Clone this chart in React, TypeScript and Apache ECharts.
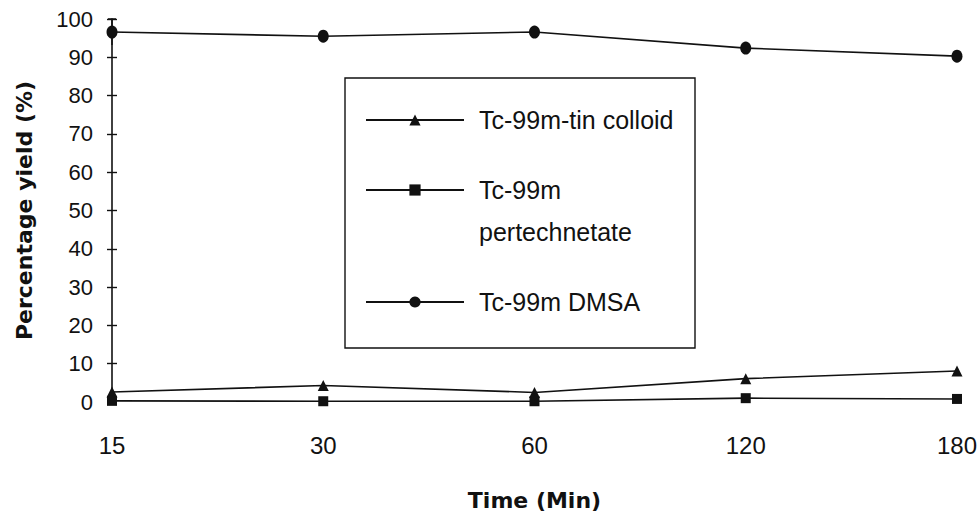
import React, { useEffect, useRef } from 'react';
import * as echarts from 'echarts';

const timeLabels = ['15', '30', '60', '120', '180'];
const tinColloid = [2.6, 4.3, 2.5, 6.1, 8.1];
const pertechnetate = [0.3, 0.2, 0.2, 1.0, 0.8];
const dmsa = [96.6, 95.5, 96.6, 92.4, 90.3];
const dmsaError = [3.4, null, null, null, null];
const yMin = 0;
const yMax = 100;
const yInterval = 10;

const NAME_TIN = 'Tc-99m-tin colloid';
const NAME_PER = 'Tc-99m pertechnetate';
const NAME_DMSA = 'Tc-99m DMSA';

const INK = '#111';

export default function App() {
  const ref = useRef<HTMLDivElement>(null);
  useEffect(() => {
    document.body.style.margin = '0';
    if (!ref.current) return;
    const chart = echarts.init(ref.current, undefined, { renderer: 'svg' });
    const errData = dmsaError
      .map((e, i) => (e == null ? null : [i, dmsa[i] - e, dmsa[i] + e]))
      .filter((d) => d != null);
    const legendText = {
      color: INK,
      fontSize: 25,
      fontFamily: 'Liberation Sans',
      padding: [0, 0, 0, 10],
    };
    const legendBase = {
      orient: 'horizontal' as const,
      left: 365,
      padding: 0,
      itemWidth: 98,
      itemHeight: 14,
      inactiveColor: INK,
      selectedMode: false,
    };
    const option: any = {
      animation: false,
      backgroundColor: '#fff',
      grid: { left: 112, right: 20, top: 19, bottom: 115, containLabel: false },
      xAxis: {
        type: 'category',
        data: timeLabels,
        boundaryGap: false,
        axisLine: { show: false },
        axisTick: { show: false },
        axisLabel: { color: INK, fontSize: 24, fontFamily: 'Liberation Sans', margin: 31 },
        name: 'Time (Min)',
        nameLocation: 'middle',
        nameGap: 87,
        nameTextStyle: { color: INK, fontSize: 22, fontWeight: 'bold', fontFamily: 'DejaVu Sans' },
      },
      yAxis: [
        {
          type: 'value',
          min: yMin,
          max: yMax,
          interval: yInterval,
          splitLine: { show: false },
          axisLine: { show: true, lineStyle: { color: INK, width: 1.6 } },
          axisTick: { show: true, inside: false, length: 5, lineStyle: { color: INK, width: 1.4 } },
          axisLabel: { color: INK, fontSize: 22, fontFamily: 'Liberation Sans', margin: 19 },
          name: 'Percentage yield (%)',
          nameLocation: 'middle',
          nameGap: 77,
          nameTextStyle: { color: INK, fontSize: 22, fontWeight: 'bold', fontFamily: 'DejaVu Sans' },
        },
        {
          type: 'value',
          position: 'left',
          offset: 0,
          min: yMin,
          max: yMax,
          interval: yInterval,
          splitLine: { show: false },
          axisLine: { show: false },
          axisTick: { show: true, inside: true, length: 5, lineStyle: { color: INK, width: 1.4 } },
          axisLabel: { show: false },
        },
      ],
      legend: [
        {
          ...legendBase,
          top: 106,
          data: [NAME_TIN],
          textStyle: { ...legendText, lineHeight: 28 },
        },
        {
          ...legendBase,
          top: 127,
          data: [NAME_PER],
          formatter: () => '\nTc-99m\npertechnetate',
          textStyle: { ...legendText, lineHeight: 42 },
        },
        {
          ...legendBase,
          top: 288,
          data: [NAME_DMSA],
          textStyle: { ...legendText, lineHeight: 28 },
        },
      ],
      graphic: [
        {
          type: 'rect',
          shape: { x: 345, y: 78, width: 350, height: 270 },
          style: { fill: 'rgba(0,0,0,0)', stroke: INK, lineWidth: 1.4 },
          z: 0,
        },
      ],
      series: [
        {
          name: NAME_TIN,
          type: 'line',
          data: tinColloid,
          symbol: 'triangle',
          symbolSize: 11,
          itemStyle: { color: INK },
          lineStyle: { color: INK, width: 1.6 },
        },
        {
          name: NAME_PER,
          type: 'line',
          data: pertechnetate,
          symbol: 'rect',
          symbolSize: 10,
          itemStyle: { color: INK },
          lineStyle: { color: INK, width: 1.6 },
        },
        {
          name: NAME_DMSA,
          type: 'line',
          data: dmsa,
          symbol: 'circle',
          symbolSize: [11, 13],
          itemStyle: { color: INK },
          lineStyle: { color: INK, width: 1.6 },
        },
        {
          name: 'DMSA error',
          type: 'custom',
          data: errData,
          z: 1,
          renderItem: (_params: any, api: any) => {
            const top = api.coord([api.value(0), api.value(2)]);
            const bot = api.coord([api.value(0), api.value(1)]);
            return {
              type: 'group',
              children: [
                { type: 'line', shape: { x1: top[0], y1: top[1], x2: bot[0], y2: bot[1] }, style: { stroke: INK, lineWidth: 1.5 } },
                { type: 'line', shape: { x1: top[0] - 4, y1: top[1], x2: top[0] + 4, y2: top[1] }, style: { stroke: INK, lineWidth: 1.5 } },
              ],
            };
          },
        },
      ],
    };
    chart.setOption(option);
    return () => chart.dispose();
  }, []);
  return <div ref={ref} style={{ width: 980, height: 517 }} />;
}
